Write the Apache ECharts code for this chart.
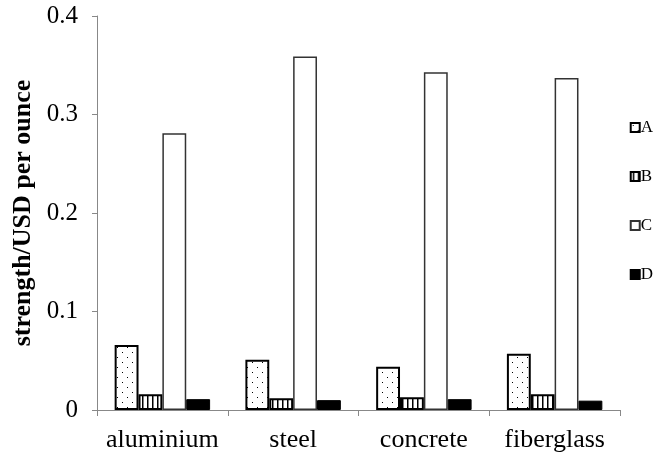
<!DOCTYPE html>
<html>
<head>
<meta charset="utf-8">
<script src="https://cdn.jsdelivr.net/npm/echarts@6/dist/echarts.min.js"></script>
<style>
  html, body { margin: 0; padding: 0; background: #fff; }
  #chart { width: 662px; height: 457px; }
</style>
</head>
<body>
<div id="chart"></div>
<script>
// Materials on the x axis
const categories = ['aluminium', 'steel', 'concrete', 'fiberglass'];
// Strength per USD per ounce for each variant
const seriesA = [0.066, 0.051, 0.044, 0.057];
const seriesB = [0.016, 0.012, 0.013, 0.016];
const seriesC = [0.281, 0.359, 0.343, 0.337];
const seriesD = [0.011, 0.010, 0.011, 0.0095];
const seriesNames = ['A', 'B', 'C', 'D'];
const yTicks = { min: 0, max: 0.4, interval: 0.1 };

// Fill patterns: sparse dots and vertical hatching
function dotPattern() {
  const c = document.createElement('canvas');
  c.width = 10; c.height = 10;
  const g = c.getContext('2d');
  g.fillStyle = '#fff'; g.fillRect(0, 0, 10, 10);
  g.fillStyle = '#000';
  g.fillRect(2, 2, 1, 1);
  g.fillRect(7, 7, 1, 1);
  return { image: c, repeat: 'repeat' };
}
function stripePattern() {
  const c = document.createElement('canvas');
  c.width = 5; c.height = 5;
  const g = c.getContext('2d');
  g.fillStyle = '#fff'; g.fillRect(0, 0, 5, 5);
  g.fillStyle = '#000';
  g.fillRect(2, 0, 1.5, 5);
  return { image: c, repeat: 'repeat' };
}

const font = 'Liberation Serif';
const chart = echarts.init(document.getElementById('chart'), null, { renderer: 'canvas' });

const styles = [
  { color: dotPattern(), borderColor: '#000', borderWidth: 2 },
  { color: stripePattern(), borderColor: '#000', borderWidth: 2 },
  { color: '#fff', borderColor: '#333', borderWidth: 1.5 },
  { color: '#000', borderColor: '#000', borderWidth: 1 }
];
const values = [seriesA, seriesB, seriesC, seriesD];

chart.setOption({
  animation: false,
  backgroundColor: '#fff',
  grid: { left: 97, right: 42, top: 16, bottom: 47, containLabel: false },
  legend: {
    orient: 'vertical',
    right: 4,
    top: 114,
    itemWidth: 9,
    itemHeight: 9,
    itemGap: 32,
    icon: 'rect',
    textStyle: { fontFamily: font, fontSize: 17, color: '#000', padding: [0, 0, 0, -4] },
    data: seriesNames
  },
  xAxis: {
    type: 'category',
    data: categories,
    axisLine: { lineStyle: { color: '#888', width: 1 } },
    axisTick: { show: true, length: 6, lineStyle: { color: '#888' } },
    axisLabel: { interval: 0, fontFamily: font, fontSize: 26, color: '#000', margin: 17 }
  },
  yAxis: {
    type: 'value',
    min: yTicks.min,
    max: yTicks.max,
    interval: yTicks.interval,
    name: 'strength/USD per ounce',
    nameLocation: 'middle',
    nameGap: 59,
    nameRotate: 90,
    nameTextStyle: { fontFamily: font, fontSize: 26, fontWeight: 'bold', color: '#000' },
    splitLine: { show: false },
    axisLine: { show: true, lineStyle: { color: '#888', width: 1 } },
    axisTick: { show: true, length: 5, lineStyle: { color: '#888' } },
    axisLabel: {
      fontFamily: font, fontSize: 25, color: '#000', margin: 19,
      formatter: v => (v === 0 ? '0' : v.toFixed(1))
    }
  },
  series: seriesNames.map((name, i) => ({
    name: name,
    type: 'bar',
    data: values[i],
    barGap: '0%',
    barCategoryGap: '27%',
    itemStyle: styles[i]
  }))
});
</script>
</body>
</html>
